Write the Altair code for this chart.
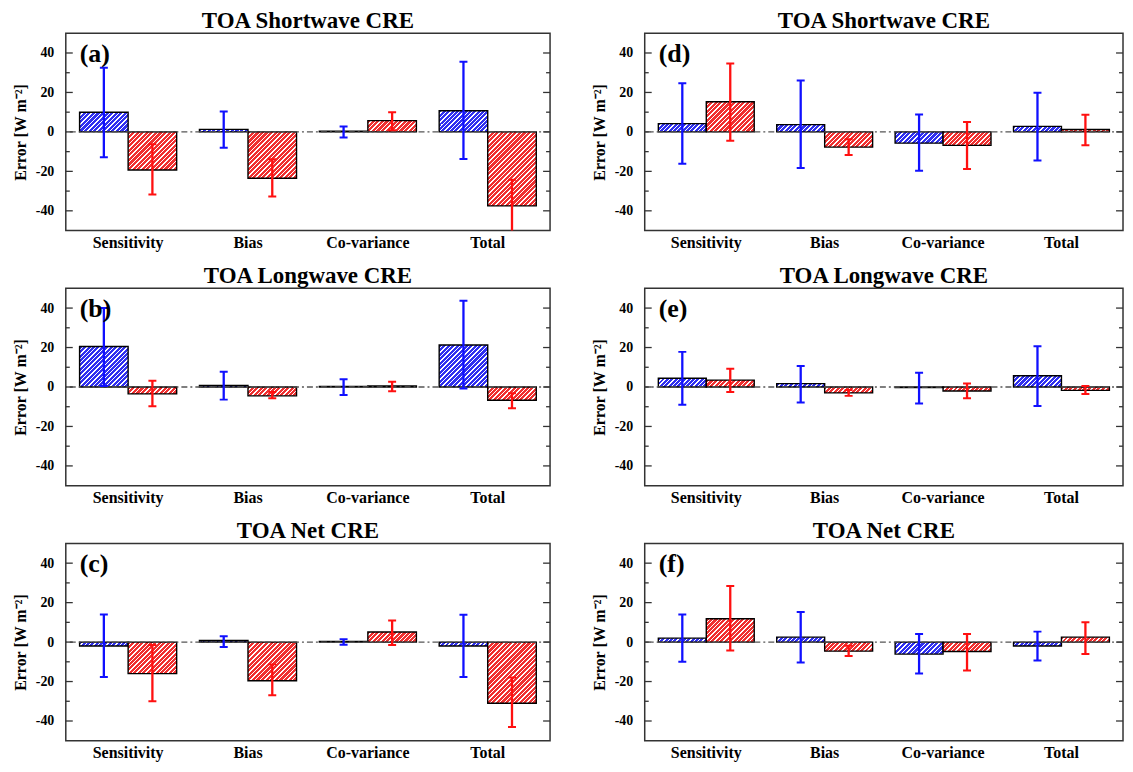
import altair as alt

# ---------------- data ----------------
categories = ["Sensitivity", "Bias", "Co-variance", "Total"]
models = ["Model 1", "Model 2"]          # blue, red
panel_labels = ["(a)", "(b)", "(c)", "(d)", "(e)", "(f)"]
panel_titles = ["TOA Shortwave CRE", "TOA Longwave CRE", "TOA Net CRE",
                "TOA Shortwave CRE", "TOA Longwave CRE", "TOA Net CRE"]

# (a) TOA Shortwave CRE, left
a_blue = [10.0, 1.3, 0.3, 10.7]
a_blue_lo = [-12.8, -8.0, -2.8, -13.7]
a_blue_hi = [32.5, 10.3, 2.8, 35.5]
a_red = [-19.3, -23.5, 5.7, -37.5]
a_red_lo = [-31.7, -32.8, 0.8, -52.0]
a_red_hi = [-6.2, -13.8, 10.0, -24.2]

# (b) TOA Longwave CRE, left
b_blue = [20.5, 0.8, 0.3, 21.3]
b_blue_lo = [0.5, -6.4, -4.0, -0.8]
b_blue_hi = [40.0, 7.7, 3.9, 43.7]
b_red = [-3.5, -4.5, 0.5, -6.7]
b_red_lo = [-9.7, -5.7, -2.2, -10.8]
b_red_hi = [3.2, -2.5, 2.7, -3.2]

# (c) TOA Net CRE, left
c_blue = [-2.0, 0.8, 0.3, -2.0]
c_blue_lo = [-17.7, -2.5, -1.3, -17.7]
c_blue_hi = [14.0, 3.0, 1.5, 13.8]
c_red = [-16.0, -19.6, 5.1, -31.0]
c_red_lo = [-30.0, -27.0, -1.5, -43.0]
c_red_hi = [-1.5, -11.3, 10.9, -18.0]

# (d) TOA Shortwave CRE, right
d_blue = [4.2, 3.7, -5.7, 2.8]
d_blue_lo = [-16.2, -18.3, -19.7, -14.5]
d_blue_hi = [24.7, 26.0, 8.8, 19.8]
d_red = [15.3, -7.7, -6.8, 1.2]
d_red_lo = [-4.5, -11.7, -18.8, -6.8]
d_red_hi = [34.7, -3.7, 5.0, 8.7]

# (e) TOA Longwave CRE, right
e_blue = [4.4, 1.7, -0.3, 5.7]
e_blue_lo = [-9.0, -7.9, -8.4, -9.6]
e_blue_hi = [17.8, 10.6, 7.2, 20.7]
e_red = [3.5, -3.0, -2.0, -1.7]
e_red_lo = [-2.5, -4.5, -5.7, -3.5]
e_red_hi = [9.2, -1.5, 1.8, 0.5]

# (f) TOA Net CRE, right
f_blue = [2.0, 2.5, -6.1, -2.0]
f_blue_lo = [-10.0, -10.4, -15.9, -9.3]
f_blue_hi = [14.0, 15.3, 4.1, 5.3]
f_red = [11.8, -4.6, -4.8, 2.5]
f_red_lo = [-4.3, -7.1, -14.4, -6.0]
f_red_hi = [28.4, -1.8, 4.1, 10.0]

y_tick_labels = [-40, -20, 0, 20, 40]
minor_ticks = [-30, -10, 10, 30]

# ---------------- styling ----------------
FONT = "Liberation Serif"
BLUE_FILL, RED_FILL = "#3030f0", "#f03030"
BLUE_LINE, RED_LINE = "#1010ff", "#ff1010"
PLOT_H = 198
LEFT_W, RIGHT_W = 486, 480
PAD_IN, PAD_OUT = 0.19, 0.115
Y_MIN, Y_MAX = -50, 50
STRIPE = 4.5        # horizontal period of the hatching, px
FRACTION = 0.68     # coloured share of each hatch period


def hatch(color, w, h):
    """Linear gradient with hard stops that draws 45-degree '/' hatching."""
    w = max(w, 0.5)
    h = max(h, 0.5)
    n = max(1, int(round((w + h) / STRIPE)))
    stops = []
    for i in range(n):
        a, b, c = i / n, (i + FRACTION) / n, (i + 1) / n
        stops += [{"offset": round(a, 5), "color": color},
                  {"offset": round(b, 5), "color": color},
                  {"offset": round(b, 5), "color": "#ffffff"},
                  {"offset": round(c, 5), "color": "#ffffff"}]
    d = w * w + h * h
    return {"gradient": "linear", "x1": 0, "y1": 0,
            "x2": (w + h) * w / d, "y2": (w + h) * h / d, "stops": stops}


def panel(idx, blue, blue_lo, blue_hi, red, red_lo, red_hi, width):
    step = width / (len(categories) - PAD_IN + 2 * PAD_OUT)
    bar_w = (1 - PAD_IN) * step / 2
    ppu = PLOT_H / (Y_MAX - Y_MIN)
    rows = []
    for model, vals, los, his, col in [
        (models[0], blue, blue_lo, blue_hi, BLUE_FILL),
        (models[1], red, red_lo, red_hi, RED_FILL),
    ]:
        for cat, v, lo, hi in zip(categories, vals, los, his):
            rows.append({"cat": cat, "model": model, "value": v, "lo": lo, "hi": hi,
                         "grad": hatch(col, bar_w, abs(v) * ppu)})
    data = alt.Data(values=rows)
    yscale = alt.Scale(domain=[Y_MIN, Y_MAX], nice=False, zero=False)
    xscale = alt.Scale(paddingInner=PAD_IN, paddingOuter=PAD_OUT)
    x_axis = alt.Axis(title=None, labelAngle=0, ticks=False, domain=False, grid=False,
                      labelPadding=4, labelFontSize=16, labelFontWeight="bold",
                      labelColor="black", labelFont=FONT)
    y_axis = alt.Axis(values=y_tick_labels, ticks=False, domain=False, grid=False,
                      labelExpr="'' + datum.value", labelFontSize=14,
                      labelFontWeight="bold", labelPadding=12, labelColor="black",
                      labelFont=FONT, minExtent=33, maxExtent=33,
                      title="Error [W m⁻²]", titleFontSize=16, titleFontWeight="bold",
                      titlePadding=4, titleColor="black", titleFont=FONT)

    def X():
        return alt.X("cat:N", sort=categories, scale=xscale, axis=x_axis)

    def Y(field):
        return alt.Y(field, scale=yscale, axis=y_axis)

    xo = alt.XOffset("model:N", sort=models)
    col_enc = alt.Color("model:N", scale=alt.Scale(domain=models, range=[BLUE_LINE, RED_LINE]),
                        legend=None)

    base = alt.Chart(data)
    bars = base.mark_bar(stroke="black", strokeWidth=1.4).encode(
        x=X(), xOffset=xo, y=Y("value:Q"), y2=alt.datum(0),
        fill=alt.Fill("grad:N", scale=None),
    )

    zero = alt.Chart(alt.Data(values=[{"z": 0}])).mark_rule(
        color="#555555", strokeDash=[6, 3, 2, 3], strokeWidth=1.4
    ).encode(y=Y("z:Q"))

    tick_layers = []
    for vals, length in [(y_tick_labels, 7), (minor_ticks, 4)]:
        tdata = alt.Data(values=[{"t": t} for t in vals])
        tick_layers.append(alt.Chart(tdata).mark_rule(color="#333333", strokeWidth=1.3).encode(
            y=Y("t:Q"), x=alt.value(0), x2=alt.value(length)))
        tick_layers.append(alt.Chart(tdata).mark_rule(color="#333333", strokeWidth=1.3).encode(
            y=Y("t:Q"), x=alt.value(width), x2=alt.value(width - length)))

    err = base.mark_rule(strokeWidth=2.3, clip=True).encode(
        x=X(), xOffset=xo, y=Y("lo:Q"), y2="hi:Q", color=col_enc)
    caps = base.transform_fold(["lo", "hi"], as_=["end", "yv"]).mark_tick(
        size=8, thickness=2, clip=True, opacity=1
    ).encode(x=X(), xOffset=xo, y=Y("yv:Q"), color=col_enc)

    label = alt.Chart(alt.Data(values=[{"lab": panel_labels[idx]}])).mark_text(
        align="left", baseline="middle", fontSize=26, fontWeight="bold", font=FONT, color="black"
    ).encode(text="lab:N", x=alt.value(14), y=alt.value(21))

    return alt.layer(bars, zero, *tick_layers, err, caps, label).properties(
        width=width, height=PLOT_H,
        title=alt.TitleParams(panel_titles[idx], fontSize=23, fontWeight="bold", font=FONT,
                              offset=0, anchor="middle", color="black"),
    )


pa = panel(0, a_blue, a_blue_lo, a_blue_hi, a_red, a_red_lo, a_red_hi, LEFT_W)
pb = panel(1, b_blue, b_blue_lo, b_blue_hi, b_red, b_red_lo, b_red_hi, LEFT_W)
pc = panel(2, c_blue, c_blue_lo, c_blue_hi, c_red, c_red_lo, c_red_hi, LEFT_W)
pd = panel(3, d_blue, d_blue_lo, d_blue_hi, d_red, d_red_lo, d_red_hi, RIGHT_W)
pe = panel(4, e_blue, e_blue_lo, e_blue_hi, e_red, e_red_lo, e_red_hi, RIGHT_W)
pf = panel(5, f_blue, f_blue_lo, f_blue_hi, f_red, f_red_lo, f_red_hi, RIGHT_W)

rows = [alt.hconcat(l, r, spacing=39).resolve_scale(xOffset="independent", x="independent")
        for l, r in [(pa, pd), (pb, pe), (pc, pf)]]

chart = alt.vconcat(*rows, spacing=13).resolve_scale(
    xOffset="independent", x="independent"
).properties(
    padding={"left": 4, "top": 0, "right": 0, "bottom": 0}
).configure(font=FONT).configure_view(stroke="#333333", strokeWidth=1.5)

chart.save("out.html", embed_options={"renderer": "svg", "actions": False})
